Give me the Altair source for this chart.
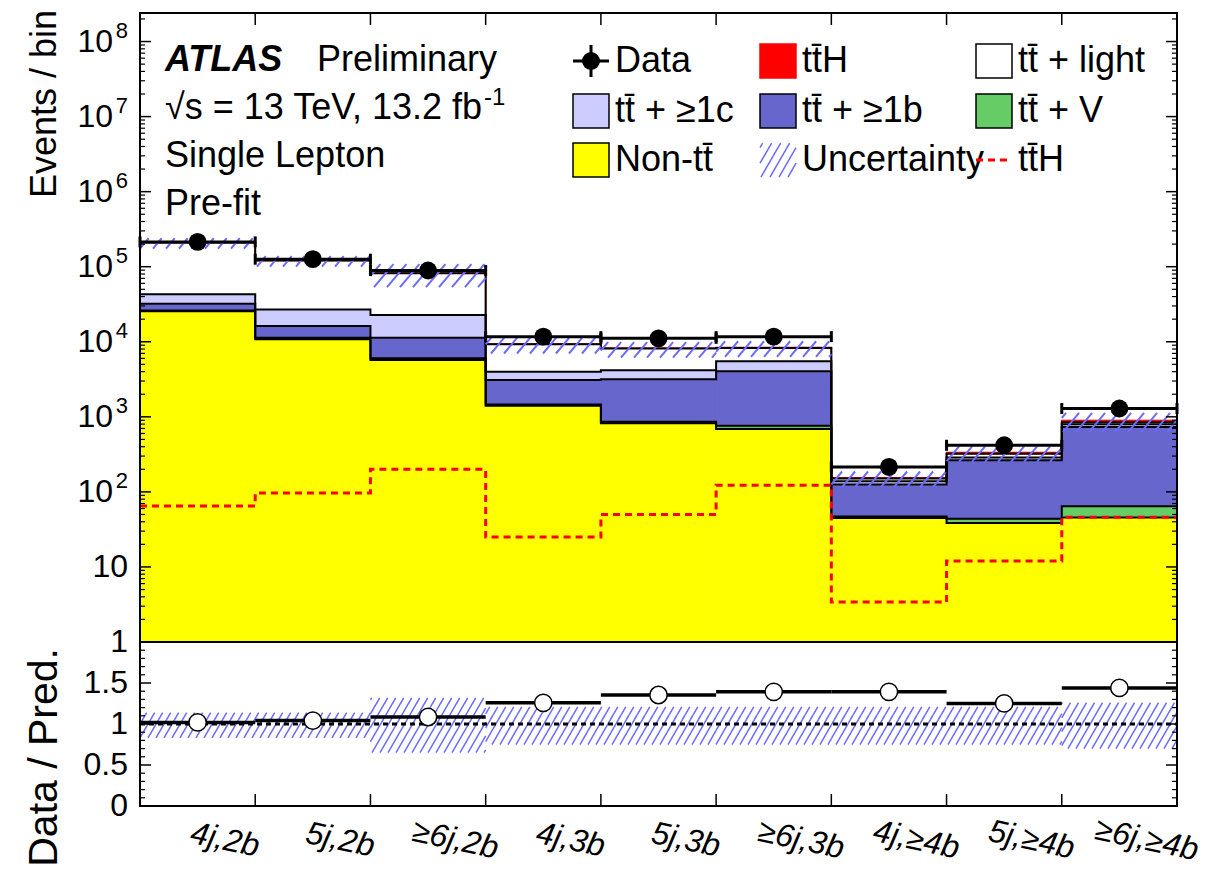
import numpy as np
import pandas as pd
import altair as alt

# ---- yields per analysis region ----
categories = ["4j,2b", "5j,2b", "≥6j,2b", "4j,3b", "5j,3b", "≥6j,3b", "4j,≥4b", "5j,≥4b", "≥6j,≥4b"]
data_obs = [214000, 126000, 89000, 11700, 11100, 11700, 215, 418, 1290]
non_tt   = [25500, 10800, 5700, 1400, 820, 686, 45, 38.5, 45.5]
tt_v     = [500, 500, 350, 60, 40, 74, 2, 5.5, 19]
tt_b     = [6000, 4900, 5250, 1640, 2310, 3300, 78, 220, 670]
tt_c     = [11000, 10800, 11400, 890, 1000, 1440, 14, 24, 59]
tt_light = [167000, 93900, 59100, 5285, 3980, 2777, 12, 34, 56]
tth      = [65, 97, 200, 25, 50, 123, 3.4, 12, 46]
unc_up   = [0.14, 0.14, 0.32, 0.21, 0.21, 0.21, 0.21, 0.21, 0.26]
unc_down = [0.17, 0.17, 0.35, 0.25, 0.25, 0.25, 0.25, 0.25, 0.30]

decade_ticks = [1, 10, 100, 1e3, 1e4, 1e5, 1e6, 1e7, 1e8]
ratio_ticks = [0, 0.5, 1, 1.5]
ratio_tick_labels = ["0", "0.5", "1", "1.5"]

# ---- layout ----
FONT = "Liberation Sans"
W, H_TOP, H_RAT = 1037, 629, 164
H = H_TOP + H_RAT
Y_MIN, Y_MAX = 1.0, 2.4e8
R_MIN, R_MAX = 0.0, 2.0
HATCH = "#6b6bff"
TT = "tt\u0304"

nb = len(categories)
px_bin = W / nb
dec_px = H_TOP / (np.log10(Y_MAX) - np.log10(Y_MIN))
rat_px = H_RAT / (R_MAX - R_MIN)

xs = alt.Scale(domain=[0, nb], nice=False, zero=False)
ys = alt.Scale(type="log", domain=[Y_MIN, Y_MAX], range=[H_TOP, 0], nice=False)
rs = alt.Scale(domain=[R_MIN, R_MAX], range=[H, H_TOP], nice=False, zero=False)

stack_names = ["nontt", "ttv", "ttb", "ttc", "ttlight", "tth"]
stack_vals = [non_tt, tt_v, tt_b, tt_c, tt_light, tth]
stack_fill = ["#ffff00", "#66cc66", "#6666cc", "#ccccff", "#ffffff", "#ff0000"]

cum = np.cumsum(np.array(stack_vals, dtype=float), axis=0)
bottoms = np.vstack([np.full(nb, Y_MIN), cum[:-1]])
pred = cum[-1]
ratio = np.array(data_obs, dtype=float) / pred


def X(f):
    return alt.X(f, scale=xs, axis=None)


def YT(f):
    return alt.Y(f, scale=ys, axis=None)


def YR(f):
    return alt.Y(f, scale=rs, axis=None)


def hatch(x0, x1, hpx, spacing, angle):
    """Diagonal hatch lines clipped to [x0, x1]; t runs 0 (bottom) to 1 (top)."""
    dx = hpx / np.tan(np.radians(angle))
    out = []
    c = np.floor((x0 - dx) / spacing) * spacing
    while c < x1:
        t0 = max(0.0, (x0 - c) / dx)
        t1 = min(1.0, (x1 - c) / dx)
        if t1 > t0:
            out.append((c + t0 * dx, t0, c + t1 * dx, t1))
        c += spacing
    return out


def txt(text, x, y, size=36, align="left", baseline="alphabetic", **kw):
    return alt.Chart(pd.DataFrame({"t": [text]})).mark_text(
        align=align, baseline=baseline, font=FONT, fontSize=size, color="black", **kw
    ).encode(x=alt.value(x), y=alt.value(y), text="t:N")


def seg(xa, ya, xb, yb, color="black", width=2, **kw):
    return alt.Chart(pd.DataFrame({"k": [0]})).mark_rule(
        color=color, strokeWidth=width, **kw
    ).encode(x=alt.value(xa), x2=alt.value(xb), y=alt.value(ya), y2=alt.value(yb))


# ---- upper panel: stacked prediction ----
rect_rows = []
for s, name in enumerate(stack_names):
    for i in range(nb):
        rect_rows.append(dict(series=name, x0=i, x1=i + 1, y0=bottoms[s, i], y1=cum[s, i]))
fill_scale = alt.Scale(domain=stack_names, range=stack_fill)
rects = alt.Chart(pd.DataFrame(rect_rows)).mark_rect(strokeWidth=1).encode(
    x=X("x0:Q"), x2="x1:Q", y=YT("y0:Q"), y2="y1:Q",
    fill=alt.Fill("series:N", scale=fill_scale, legend=None),
    stroke=alt.Stroke("series:N", scale=fill_scale, legend=None),
)

out_rows = []
for s in range(5):
    for e in range(nb + 1):
        out_rows.append(dict(series=stack_names[s], x=e, y=cum[s, min(e, nb - 1)]))
outlines = alt.Chart(pd.DataFrame(out_rows)).mark_line(
    interpolate="step-after", color="black", strokeWidth=2
).encode(x=X("x:Q"), y=YT("y:Q"), detail="series:N")

tot_df = pd.DataFrame({"x": np.arange(nb + 1), "y": [pred[min(e, nb - 1)] for e in range(nb + 1)]})
total_line = alt.Chart(tot_df).mark_line(
    interpolate="step-after", color="#ff0000", strokeWidth=1.5
).encode(x=X("x:Q"), y=YT("y:Q"))

tth_df = pd.DataFrame({"x": np.arange(nb + 1), "y": [tth[min(e, nb - 1)] for e in range(nb + 1)]})
tth_line = alt.Chart(tth_df).mark_line(
    interpolate="step-after", color="#ff0000", strokeWidth=3, strokeDash=[7, 5]
).encode(x=X("x:Q"), y=YT("y:Q"))

# uncertainty hatch on the total prediction
ht_rows = []
for i in range(nb):
    lo, hi = pred[i] * (1 - unc_down[i]), pred[i] * (1 + unc_up[i])
    hpx = (np.log10(hi) - np.log10(lo)) * dec_px
    for xa, ta, xb, tb in hatch(i * px_bin, (i + 1) * px_bin, hpx, 13, 50):
        ht_rows.append(dict(xa=xa / px_bin, xb=xb / px_bin,
                            ya=lo * (hi / lo) ** ta, yb=lo * (hi / lo) ** tb))
hatch_top = alt.Chart(pd.DataFrame(ht_rows)).mark_rule(color=HATCH, strokeWidth=2).encode(
    x=X("xa:Q"), x2="xb:Q", y=YT("ya:Q"), y2="yb:Q")

obs_df = pd.DataFrame({"x0": np.arange(nb), "x1": np.arange(nb) + 1,
                       "xc": np.arange(nb) + 0.5, "y": data_obs, "r": ratio})
obs_bars = alt.Chart(obs_df).mark_rule(color="black", strokeWidth=3).encode(
    x=X("x0:Q"), x2="x1:Q", y=YT("y:Q"))
caps_df = pd.concat([obs_df.assign(xe=obs_df.x0), obs_df.assign(xe=obs_df.x1)])
obs_caps = alt.Chart(caps_df).mark_tick(
    orient="vertical", color="black", size=11, thickness=3, opacity=1
).encode(x=X("xe:Q"), y=YT("y:Q"))
obs_pts = alt.Chart(obs_df).mark_circle(color="black", size=320, opacity=1).encode(
    x=X("xc:Q"), y=YT("y:Q"))

# log axis ticks (inside the frame, both sides)
minor_vals = [m * 10 ** k for k in range(9) for m in range(2, 10) if m * 10 ** k <= Y_MAX]
maj_df = pd.DataFrame({"v": decade_ticks})
min_df = pd.DataFrame({"v": minor_vals})
ytk = [
    alt.Chart(maj_df).mark_rule(color="black", strokeWidth=1.5).encode(
        y=YT("v:Q"), x=alt.value(0), x2=alt.value(11)),
    alt.Chart(maj_df).mark_rule(color="black", strokeWidth=1.5).encode(
        y=YT("v:Q"), x=alt.value(W - 11), x2=alt.value(W)),
    alt.Chart(min_df).mark_rule(color="black", strokeWidth=1.2).encode(
        y=YT("v:Q"), x=alt.value(0), x2=alt.value(5)),
    alt.Chart(min_df).mark_rule(color="black", strokeWidth=1.2).encode(
        y=YT("v:Q"), x=alt.value(W - 5), x2=alt.value(W)),
]
lab_df = pd.DataFrame({
    "v": decade_ticks,
    "base": ["1" if v == 1 else "10" for v in decade_ticks],
    "exp": ["" if v < 100 else str(int(round(np.log10(v)))) for v in decade_ticks],
})
ylabels = [
    alt.Chart(lab_df[lab_df.v < 100]).mark_text(
        align="right", baseline="middle", font=FONT, fontSize=32, color="black"
    ).encode(y=YT("v:Q"), x=alt.value(-12), text="base:N"),
    alt.Chart(lab_df[lab_df.v >= 100]).mark_text(
        align="right", baseline="middle", font=FONT, fontSize=32, color="black"
    ).encode(y=YT("v:Q"), x=alt.value(-27), text="base:N"),
    alt.Chart(lab_df[lab_df.v >= 100]).mark_text(
        align="right", baseline="middle", font=FONT, fontSize=22, color="black", dy=-11
    ).encode(y=YT("v:Q"), x=alt.value(-12), text="exp:N"),
]

top = alt.layer(rects, total_line, outlines, tth_line, hatch_top,
                obs_bars, obs_caps, obs_pts, *ytk, *ylabels)

# ---- lower panel: data / prediction ----
hr_rows = []
for i in range(nb):
    lo, hi = 1 - unc_down[i], 1 + unc_up[i]
    hpx = (hi - lo) * rat_px
    for xa, ta, xb, tb in hatch(i * px_bin, (i + 1) * px_bin, hpx, 8, 60):
        hr_rows.append(dict(xa=xa / px_bin, xb=xb / px_bin,
                            ya=lo + (hi - lo) * ta, yb=lo + (hi - lo) * tb))
hatch_rat = alt.Chart(pd.DataFrame(hr_rows)).mark_rule(color=HATCH, strokeWidth=1.5).encode(
    x=X("xa:Q"), x2="xb:Q", y=YR("ya:Q"), y2="yb:Q")

unity = alt.Chart(pd.DataFrame({"x0": [0], "x1": [nb], "y": [1.0]})).mark_rule(
    color="black", strokeWidth=3, strokeDash=[5, 4]
).encode(x=X("x0:Q"), x2="x1:Q", y=YR("y:Q"))
rat_bars = alt.Chart(obs_df).mark_rule(color="black", strokeWidth=3.5).encode(
    x=X("x0:Q"), x2="x1:Q", y=YR("r:Q"))
rat_pts = alt.Chart(obs_df).mark_point(
    shape="circle", filled=True, fill="white", stroke="black", strokeWidth=1.5, size=300, opacity=1
).encode(x=X("xc:Q"), y=YR("r:Q"))

rmaj_df = pd.DataFrame({"v": ratio_ticks, "lab": ratio_tick_labels})
rmin_df = pd.DataFrame({"v": [round(0.1 * k, 1) for k in range(1, 20) if k % 5 != 0]})
rtk = [
    alt.Chart(rmaj_df).mark_rule(color="black", strokeWidth=1.5).encode(
        y=YR("v:Q"), x=alt.value(0), x2=alt.value(11)),
    alt.Chart(rmaj_df).mark_rule(color="black", strokeWidth=1.5).encode(
        y=YR("v:Q"), x=alt.value(W - 11), x2=alt.value(W)),
    alt.Chart(rmin_df).mark_rule(color="black", strokeWidth=1.2).encode(
        y=YR("v:Q"), x=alt.value(0), x2=alt.value(5)),
    alt.Chart(rmin_df).mark_rule(color="black", strokeWidth=1.2).encode(
        y=YR("v:Q"), x=alt.value(W - 5), x2=alt.value(W)),
    alt.Chart(rmaj_df).mark_text(
        align="right", baseline="middle", font=FONT, fontSize=32, color="black"
    ).encode(y=YR("v:Q"), x=alt.value(-12), text="lab:N"),
]

low = alt.layer(hatch_rat, unity, rat_bars, rat_pts, *rtk)

# ---- frame, bin-edge ticks, bin labels ----
edge_df = pd.DataFrame({"e": np.arange(1, nb)})
xtk = [
    alt.Chart(edge_df).mark_rule(color="black", strokeWidth=1.5).encode(
        x=X("e:Q"), y=alt.value(0), y2=alt.value(12)),
    alt.Chart(edge_df).mark_rule(color="black", strokeWidth=1.5).encode(
        x=X("e:Q"), y=alt.value(H - 12), y2=alt.value(H)),
]
cat_df = pd.DataFrame({"c": np.arange(nb) + 0.5, "label": categories})
xlabels = alt.Chart(cat_df).mark_text(
    align="center", baseline="middle", font=FONT, fontSize=32, fontStyle="italic",
    angle=12, dx=28, color="black"
).encode(x=X("c:Q"), y=alt.value(H + 28), text="label:N")

frame = [
    alt.Chart(pd.DataFrame({"k": [0]})).mark_rect(
        fill="transparent", stroke="black", strokeWidth=2
    ).encode(x=alt.value(0), x2=alt.value(W), y=alt.value(0), y2=alt.value(H)),
    seg(0, H_TOP, W, H_TOP, width=2),
]

titles = [
    txt("Events / bin", -95, -3, size=36, align="right", baseline="middle", angle=270),
    txt("Data / Pred.", -95, H_TOP + 6, size=41, align="right", baseline="middle", angle=270),
]

notes = [
    txt("ATLAS", 25, 58, fontWeight="bold", fontStyle="italic"),
    txt("Preliminary", 177, 58),
    txt("√s = 13 TeV, 13.2 fb", 342, 106, align="right"),
    txt("-1", 344, 92, size=24),
    txt("Single Lepton", 25, 154),
    txt("Pre-fit", 25, 202),
]

# ---- legend (3 x 3 grid) ----
col_x = [433, 620, 836]
row_y = [48, 98, 147]
BW, BH = 36, 34
entries = [
    (0, 0, "Data", "data", None),
    (1, 0, f"{TT}H", "box", "#ff0000"),
    (2, 0, f"{TT} + light", "box", "#ffffff"),
    (0, 1, f"{TT} + ≥1c", "box", "#ccccff"),
    (1, 1, f"{TT} + ≥1b", "box", "#6666cc"),
    (2, 1, f"{TT} + V", "box", "#66cc66"),
    (0, 2, f"Non-{TT}", "box", "#ffff00"),
    (1, 2, "Uncertainty", "hatch", None),
    (2, 2, f"{TT}H", "dash", "#ff0000"),
]
legend = []
for c, r, label, kind, color in entries:
    x0, yc = col_x[c], row_y[r]
    if kind == "box":
        legend.append(alt.Chart(pd.DataFrame({"k": [0]})).mark_rect(
            fill=color, stroke="black" if color != "#ff0000" else color, strokeWidth=1.5
        ).encode(x=alt.value(x0), x2=alt.value(x0 + BW),
                 y=alt.value(yc - BH / 2), y2=alt.value(yc + BH / 2)))
    elif kind == "data":
        legend.append(seg(x0, yc, x0 + BW, yc, width=3))
        legend.append(seg(x0 + BW / 2, yc - 16, x0 + BW / 2, yc + 16, width=3))
        legend.append(alt.Chart(pd.DataFrame({"k": [0]})).mark_circle(
            color="black", size=320, opacity=1
        ).encode(x=alt.value(x0 + BW / 2), y=alt.value(yc)))
    elif kind == "hatch":
        for xa, ta, xb, tb in hatch(x0, x0 + BW, BH, 9, 60):
            legend.append(seg(xa, yc + BH / 2 - ta * BH, xb, yc + BH / 2 - tb * BH,
                              color=HATCH, width=1.5))
    elif kind == "dash":
        legend.append(seg(x0, yc, x0 + BW, yc, color=color, width=3, strokeDash=[7, 5]))
    legend.append(txt(label, x0 + BW + 6, yc, baseline="middle"))

chart = alt.layer(
    top, low, *xtk, xlabels, *frame, *titles, *notes, *legend
).resolve_scale(y="independent").properties(
    width=W, height=H,
    autosize=alt.AutoSizeParams(type="none"),
    padding={"left": 140, "top": 13, "right": 1221 - 140 - W, "bottom": 873 - 13 - H},
).configure_view(stroke="transparent")

chart.save("out.html", embed_options={"renderer": "svg", "actions": False})
